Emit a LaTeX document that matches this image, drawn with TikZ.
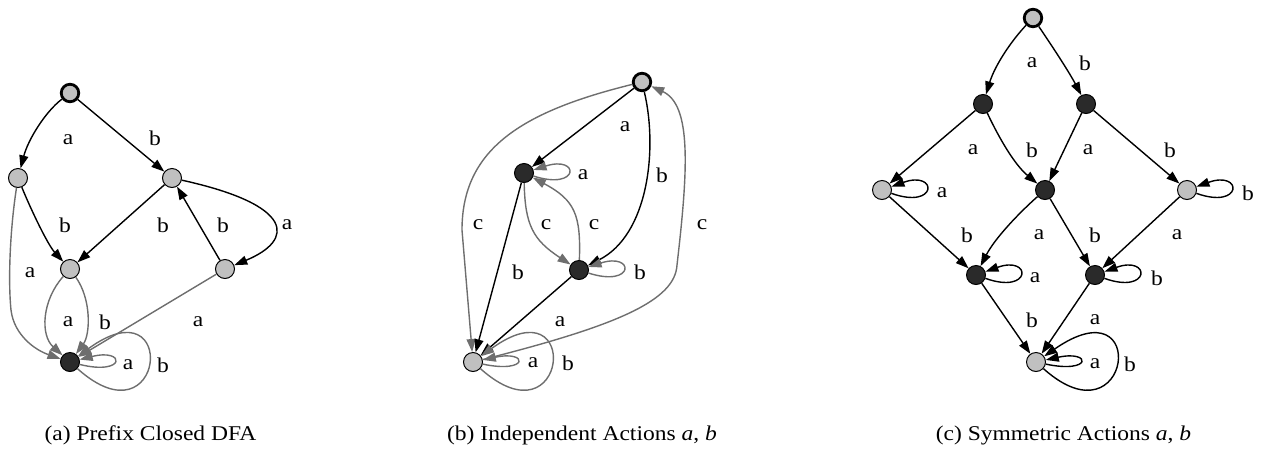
\documentclass[tikz,border=0pt]{standalone}
\usepackage{fontspec}
\setmainfont{Liberation Serif}[FakeStretch=1.12]
\usetikzlibrary{arrows.meta}
\definecolor{nodegray}{HTML}{C0C0C0}
\definecolor{nodedark}{HTML}{2A2A2A}
\definecolor{edgegray}{HTML}{6E6E6E}
\begin{document}
\begin{tikzpicture}[x=1pt,y=1pt,
  st/.style={circle,draw=black,line width=1pt,minimum size=19pt,inner sep=0pt},
  lt/.style={st,fill=nodegray},
  dk/.style={st,fill=nodedark},
  init/.style={lt,line width=2.8pt,minimum size=17.5pt},
  edg/.style={line width=1.4pt,-{Triangle[length=13pt,width=9pt]}},
  blk/.style={edg,draw=black},
  gry/.style={edg,draw=edgegray},
  lbl/.style={font=\fontsize{21}{25}\selectfont,inner sep=0pt},
  captxt/.style={font=\fontsize{21}{25}\selectfont,inner sep=0pt,anchor=base}]
\useasboundingbox (0,0) rectangle (1261,-448);

% ---------------- (a) ----------------
\node[init] (aS) at (70,-93) {};
\node[lt] (a1) at (18,-178) {};
\node[lt] (a2) at (172,-178) {};
\node[lt] (a3) at (70,-269) {};
\node[lt] (a4) at (225,-269) {};
\node[dk] (aK) at (70,-362) {};

\draw[blk] (aS) .. controls (45,-112) and (28,-140) .. (a1);
\draw[blk] (aS) -- (a2);
\draw[blk] (a1) .. controls (32,-212) and (48,-245) .. (a3);
\draw[blk] (a2) -- (a3);
\draw[blk] (a4) -- (a2);
\draw[blk] (a2) .. controls (295,-205) and (295,-240) .. (a4);
\draw[gry] (a1) .. controls (10,-230) and (8,-280) .. (11,-310) .. controls (14,-335) and (35,-350) .. (aK);
\draw[gry] (a3) .. controls (42,-300) and (40,-335) .. (aK);
\draw[gry] (a3) .. controls (92,-300) and (90,-335) .. (aK);
\draw[gry] (a4) -- (aK);
\draw[gry] (aK) .. controls +(56,-14) and +(56,14) .. (aK);
\draw[gry] (aK) .. controls +(95,-85) and +(110,80) .. (aK);

\node[lbl] (la1) at (68,-140) {a};
\node[lbl] (la2) at (155,-138) {b};
\node[lbl] (la3) at (65,-225) {b};
\node[lbl] (la4) at (163,-225) {b};
\node[lbl] (la5) at (223,-225) {b};
\node[lbl] (la6) at (287,-225) {a};
\node[lbl] (la7) at (30,-273) {a};
\node[lbl] (la8) at (68,-322) {a};
\node[lbl] (la9) at (105,-322) {b};
\node[lbl] (la10) at (198,-322) {a};
\node[lbl] (la11) at (128,-365) {a};
\node[lbl] (la12) at (163,-365) {b};
\node[captxt] (capa) at (150.5,-440) {(a) Prefix Closed DFA};

% ---------------- (b) ----------------
\node[init] (bS) at (642,-82) {};
\node[dk] (bD1) at (524,-173) {};
\node[dk] (bD2) at (579,-270) {};
\node[lt] (bK) at (473,-362) {};

\draw[blk] (bS) -- (bD1);
\draw[blk] (bS) .. controls (658,-150) and (648,-235) .. (bD2);
\draw[gry] (bD1) .. controls +(56,-18) and +(56,18) .. (bD1);
\draw[gry] (bS) .. controls (520,-112) and (462,-150) .. (462,-230) -- (bK);
\draw[gry] (bD1) .. controls (525,-225) and (533,-240) .. (bD2);
\draw[gry] (bD2) .. controls (581,-215) and (575,-200) .. (bD1);
\draw[blk] (bD1) -- (bK);
\draw[gry] (bD2) .. controls +(56,-18) and +(56,18) .. (bD2);
\draw[blk] (bD2) -- (bK);
\draw[gry] (bK) .. controls (620,-325) and (675,-300) .. (677,-265) .. controls (688,-170) and (692,-105) .. (bS);
\draw[gry] (bK) .. controls +(56,-12) and +(56,12) .. (bK);
\draw[gry] (bK) .. controls +(95,-85) and +(110,80) .. (bK);

\node[lbl] (lb1) at (625,-127) {a};
\node[lbl] (lb2) at (662,-175) {b};
\node[lbl] (lb3) at (583,-175) {a};
\node[lbl] (lb4) at (478,-225) {c};
\node[lbl] (lb5) at (546,-225) {c};
\node[lbl] (lb6) at (594,-225) {c};
\node[lbl] (lb7) at (702,-225) {c};
\node[lbl] (lb8) at (518,-272) {b};
\node[lbl] (lb9) at (640,-272) {b};
\node[lbl] (lb10) at (560,-322) {a};
\node[lbl] (lb11) at (533,-363) {a};
\node[lbl] (lb12) at (568,-363) {b};
\node[captxt] (capb) at (582,-440) {(b) Independent Actions \textit{a}, \textit{b}};

% ---------------- (c) ----------------
\node[init] (cS) at (1033,-18) {};
\node[dk] (cL1) at (983,-104) {};
\node[dk] (cR1) at (1086,-104) {};
\node[lt] (cGA) at (882,-190) {};
\node[dk] (cM) at (1045,-190) {};
\node[lt] (cGB) at (1187,-190) {};
\node[dk] (cLA) at (976,-275) {};
\node[dk] (cRB) at (1095,-275) {};
\node[lt] (cK) at (1036,-362) {};

\draw[blk] (cS) .. controls (1012,-40) and (995,-65) .. (cL1);
\draw[blk] (cS) .. controls (1048,-40) and (1068,-70) .. (cR1);
\draw[blk] (cL1) -- (cGA);
\draw[blk] (cL1) .. controls (1000,-140) and (1015,-165) .. (cM);
\draw[blk] (cR1) -- (cM);
\draw[blk] (cR1) -- (cGB);
\draw[blk] (cGA) .. controls +(56,-20) and +(56,20) .. (cGA);
\draw[blk] (cGB) .. controls +(56,-20) and +(56,20) .. (cGB);
\draw[blk] (cGA) -- (cLA);
\draw[blk] (cM) .. controls (1020,-212) and (995,-238) .. (cLA);
\draw[blk] (cM) -- (cRB);
\draw[blk] (cGB) -- (cRB);
\draw[blk] (cLA) .. controls +(56,-20) and +(56,20) .. (cLA);
\draw[blk] (cRB) .. controls +(56,-20) and +(56,20) .. (cRB);
\draw[blk] (cLA) -- (cK);
\draw[blk] (cRB) -- (cK);
\draw[blk] (cK) .. controls +(56,-12) and +(56,12) .. (cK);
\draw[blk] (cK) .. controls +(95,-85) and +(115,80) .. (cK);

\node[lbl] (lc1) at (1032,-63) {a};
\node[lbl] (lc2) at (1085,-63) {b};
\node[lbl] (lc3) at (973,-150) {a};
\node[lbl] (lc4) at (1032,-150) {b};
\node[lbl] (lc5) at (1088,-150) {a};
\node[lbl] (lc6) at (1170,-150) {b};
\node[lbl] (lc7) at (942,-193) {a};
\node[lbl] (lc8) at (1248,-193) {b};
\node[lbl] (lc9) at (967,-235) {b};
\node[lbl] (lc10) at (1039,-235) {a};
\node[lbl] (lc11) at (1095,-235) {b};
\node[lbl] (lc12) at (1177,-235) {a};
\node[lbl] (lc13) at (1035,-278) {a};
\node[lbl] (lc14) at (1157,-278) {b};
\node[lbl] (lc15) at (1032,-320) {b};
\node[lbl] (lc16) at (1095,-320) {a};
\node[lbl] (lc17) at (1095,-364) {a};
\node[lbl] (lc18) at (1130,-364) {b};
\node[captxt] (capc) at (1063.5,-440) {(c) Symmetric Actions \textit{a}, \textit{b}};
\end{tikzpicture}
\end{document}
